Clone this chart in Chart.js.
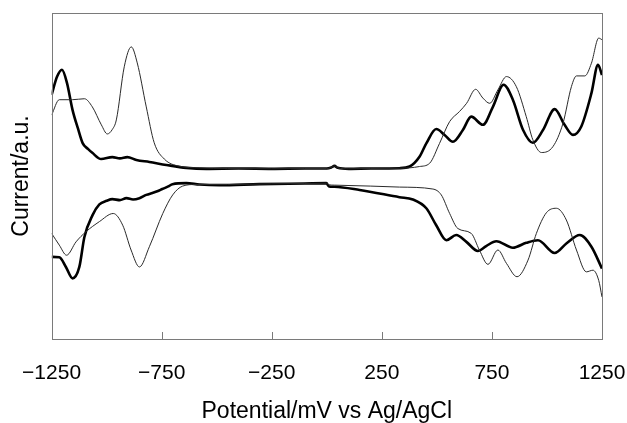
<!DOCTYPE html>
<html>
<head>
<meta charset="utf-8">
<script src="https://cdn.jsdelivr.net/npm/chart.js@4.4.0/dist/chart.umd.min.js"></script>
<style>
html,body{margin:0;padding:0;background:#fff;}
#wrap{width:627px;height:423px;}
</style>
</head>
<body>
<div id="wrap"><canvas id="c" width="627" height="423"></canvas></div>
<script>
// Thick curve, anodic (upper) branch
const thickUpperE = [-1250,-1225,-1203,-1180,-1155,-1130,-1109,-1085,-1065,-1025,-974,-940,-906,-865,-806,-729,-638,-547,-400,-250,-100,0,20,35,50,100,200,330,376,421,452,497,535,573,618,656,709,755,803,845,891,936,982,1035,1080,1118,1156,1202,1232,1250];
const thickUpperI = [74.9,80.5,82.6,78.5,70.3,64.5,60.1,58.3,57.1,55.2,55.8,55.4,55.8,54.9,54.3,53.4,52.5,52.2,52.3,52.2,52.3,52.3,52.6,53.1,52.5,52.2,52.3,52.4,52.9,55.9,60.0,64.4,62.6,60.5,64.1,68.2,65.7,71.3,78.0,73.4,64.2,60.2,64.1,70.5,65.7,62.6,65.2,75.4,84.1,81.0];
// Thick curve, cathodic (lower) branch
const thickLowerE = [-1250,-1215,-1185,-1155,-1124,-1101,-1064,-1033,-1000,-974,-940,-910,-880,-851,-820,-792,-770,-747,-720,-701,-638,-578,-488,-306,-100,-2,10,35,149,330,391,452,497,543,588,634,686,724,770,845,906,959,1035,1088,1149,1202,1250];
const thickLowerI = [25.2,25.1,22.1,18.6,22.1,31.3,38.0,41.3,42.4,42.9,42.6,43.2,42.8,43.2,44.2,44.8,45.3,46.0,46.8,47.5,47.8,47.4,47.2,47.5,47.7,47.8,46.8,46.7,45.7,43.5,42.8,40.1,34.9,30.3,31.9,29.8,27.0,28.5,30.0,28.0,29.5,30.3,26.4,29.3,31.9,28.3,21.6];
// Thin curve, anodic (upper) branch
const thinUpperE = [-1250,-1215,-1156,-1101,-1065,-1024,-997,-975,-956,-920,-888,-861,-820,-784,-738,-670,-579,-450,-250,-100,0,20,35,50,100,200,330,376,421,467,512,558,603,635,676,709,740,777,816,861,906,936,975,1027,1073,1111,1134,1172,1202,1235,1250];
const thinUpperI = [68.7,73.4,73.4,73.7,71.2,65.7,62.9,64.2,67.2,83.5,89.6,84.7,71.2,60.2,55.2,53.0,52.5,52.3,52.2,52.3,52.3,52.6,53.1,52.5,52.2,52.3,52.4,52.5,52.9,53.9,60.0,66.7,69.8,72.3,76.6,73.9,72.3,76.4,80.5,77.4,68.2,61.1,57.2,59.0,66.2,77.4,80.7,80.7,84.6,92.3,91.8];
// Thin curve, cathodic (lower) branch
const thinLowerE = [-1250,-1215,-1182,-1139,-1094,-1033,-970,-927,-889,-851,-806,-745,-700,-655,-594,-450,-250,-100,-2,10,35,200,330,482,520,558,595,656,693,732,777,816,864,914,952,997,1043,1088,1134,1179,1209,1235,1250];
const thinLowerI = [32.4,28.8,25.7,29.8,32.9,36.0,38.5,34.9,27.3,22.1,28.3,38.5,44.2,46.9,47.4,47.4,47.6,47.7,47.8,47.3,47.2,46.9,46.6,46.0,44.2,38.5,33.9,32.4,27.3,22.9,27.3,23.2,19.1,24.2,32.4,38.7,40.1,36.5,27.3,20.6,21.1,18.0,12.9];
// Axis
const xTicks = [-1250,-750,-250,250,750,1250];
const xTitle = 'Potential/mV vs Ag/AgCl';
const yTitle = 'Current/a.u.';

function pts(E, I){ return E.map((x,i)=>({x:x, y:I[i]})); }

const frame = {
  id:'frame',
  afterDraw(chart){
    const a = chart.chartArea, ctx = chart.ctx, xs = chart.scales.x;
    ctx.save();
    ctx.strokeStyle = '#7a7a7a';
    ctx.lineWidth = 1;
    ctx.strokeRect(Math.round(a.left)+0.5, Math.round(a.top)+0.5, Math.round(a.right-a.left), Math.round(a.bottom-a.top));
    ctx.beginPath();
    xTicks.forEach(v=>{
      const px = Math.round(xs.getPixelForValue(v))+0.5;
      ctx.moveTo(px, a.bottom);
      ctx.lineTo(px, a.bottom-7);
    });
    ctx.stroke();
    ctx.restore();
  }
};

const line = (data, w, c) => ({
  data: data, showLine: true, borderColor: c, borderWidth: w, pointRadius: 0,
  fill: false, cubicInterpolationMode: 'monotone'
});

const FONT = 'Liberation Sans, Arial, sans-serif';

new Chart(document.getElementById('c'), {
  type: 'scatter',
  data: {
    datasets: [
      line(pts(thinUpperE, thinUpperI), 1, '#2a2a2a'),
      line(pts(thinLowerE, thinLowerI), 1, '#2a2a2a'),
      line(pts(thickUpperE, thickUpperI), 2.6, '#000'),
      line(pts(thickLowerE, thickLowerI), 2.6, '#000')
    ]
  },
  options: {
    responsive: false,
    animation: false,
    devicePixelRatio: 1,
    layout: { padding: { left: 0, right: 25, top: 13, bottom: 0 } },
    plugins: { legend: { display: false }, tooltip: { enabled: false } },
    scales: {
      x: {
        type: 'linear', min: -1250, max: 1250,
        afterBuildTicks(scale){ scale.ticks = xTicks.map(v=>({value:v})); },
        afterFit(scale){ scale.paddingLeft = 0; scale.paddingRight = 0; scale.height = 84; },
        grid: { display: false, drawTicks: false },
        border: { display: false },
        ticks: {
          padding: 22, color: '#000', maxRotation: 0, autoSkip: false,
          font: { family: FONT, size: 21 },
          callback: v => (v < 0 ? '\u2212' + Math.abs(v) : String(v))
        },
        title: {
          display: true, text: xTitle, color: '#000',
          font: { family: FONT, size: 23 },
          padding: { top: 6, bottom: -2 }
        }
      },
      y: {
        type: 'linear', min: 0, max: 100,
        grid: { display: false, drawTicks: false },
        border: { display: false },
        ticks: { display: false },
        title: {
          display: true, text: yTitle, color: '#000',
          font: { family: FONT, size: 23 },
          padding: { top: 8, bottom: 16 }
        }
      }
    }
  },
  plugins: [frame]
});
</script>
</body>
</html>
